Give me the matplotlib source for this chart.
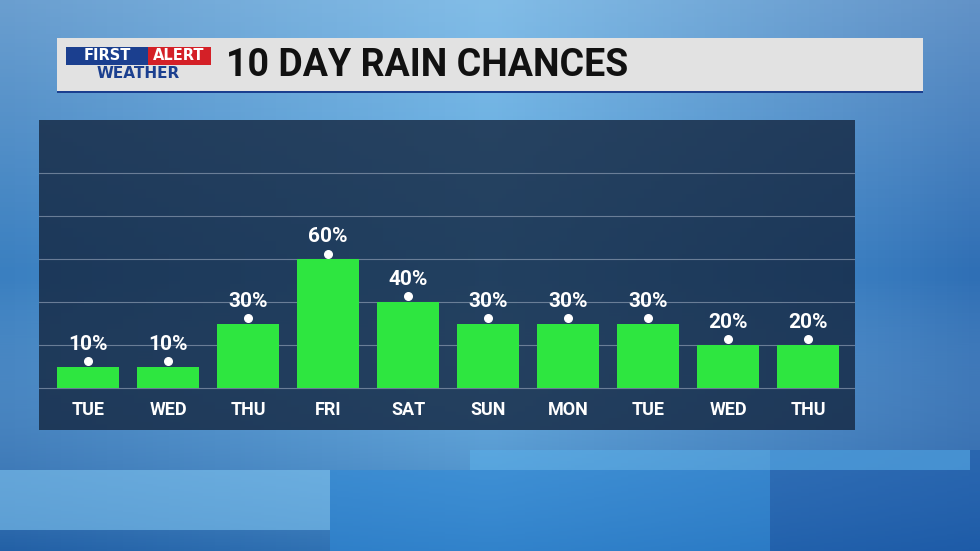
import matplotlib
matplotlib.use("Agg")
import matplotlib.pyplot as plt
import numpy as np
from matplotlib.patches import Rectangle
from matplotlib.colors import LinearSegmentedColormap

days = ["TUE","WED","THU","FRI","SAT","SUN","MON","TUE","WED","THU"]
chances = [10,10,30,60,40,30,30,30,20,20]
title = "10 DAY RAIN CHANCES"

W, H = 980, 551
fig = plt.figure(figsize=(W/100, H/100), dpi=100)
bg = fig.add_axes([0,0,1,1]); bg.set_xlim(0,W); bg.set_ylim(H,0); bg.axis("off")
grad = np.linspace(0,1,256).reshape(1,-1)
cm = LinearSegmentedColormap.from_list("b", ["#3a7fc0", "#5aa8e0", "#2f6fb5"])
bg.imshow(np.vstack([grad]*2), extent=[0,W,H,0], cmap=cm, aspect="auto")
bg.imshow(np.linspace(0,1,256).reshape(-1,1), extent=[0,W,H,0], cmap=LinearSegmentedColormap.from_list("v",[(1,1,1,0.25),(1,1,1,0),(0,0.2,0.5,0.4)]), aspect="auto")
for (x0,y0,w,h,c) in [(0,470,330,60,"#7fc4f0"),(330,470,440,81,"#2f8ad8"),(770,450,210,101,"#1f5fae"),(470,450,500,20,"#5aaee8")]:
    bg.add_patch(Rectangle((x0,y0),w,h,color=c,alpha=0.6,lw=0))
# title bar
bg.add_patch(Rectangle((57,38),866,55,color="#e2e2e2",lw=0))
bg.add_patch(Rectangle((57,91),866,2,color="#1b3f8f",lw=0))
bg.add_patch(Rectangle((66,47),82,18,color="#1b3f8f",lw=0))
bg.add_patch(Rectangle((148,47),63,18,color="#d42027",lw=0))
bg.text(107,56,"FIRST",color="white",fontsize=10.5,fontweight="bold",va="center",ha="center",family="DejaVu Sans")
bg.text(179,56,"ALERT",color="white",fontsize=10.5,fontweight="bold",va="center",ha="center",family="DejaVu Sans")
bg.text(138,74,"WEATHER",color="#1b3f8f",fontsize=11,fontweight="bold",va="center",ha="center",family="DejaVu Sans")
bg.text(226,66,title,color="#111111",fontsize=27,fontweight="bold",va="center",family="Roboto")

ax = fig.add_axes([39/W, (H-430)/H, 816/W, 310/H])
ax.set_facecolor((0.08,0.15,0.25,0.8))
ax.set_xlim(-0.6125, 9.5875)
ax.set_ylim(-19.5, 124.7)
for s in ax.spines.values(): s.set_visible(False)
ax.set_xticks([]); ax.set_yticks([])
for g in [0,20,40,60,80,100]:
    ax.axhline(g,color="#8a9ab0",lw=0.8,alpha=0.7,zorder=1)
x = np.arange(len(days))
ax.bar(x, chances, width=0.78, color="#2ee640", zorder=2)
ax.scatter(x, np.array(chances)+2.6, s=30, color="white", zorder=3)
for xi, v, d in zip(x, chances, days):
    ax.text(xi, v+6, f"{v}%", ha="center", va="bottom", color="white", fontsize=15, fontweight="bold", family="Roboto")
    ax.text(xi, -10, d, ha="center", va="center", color="white", fontsize=13, fontweight="bold", family="Roboto")
fig.savefig("out.png", dpi=100)
